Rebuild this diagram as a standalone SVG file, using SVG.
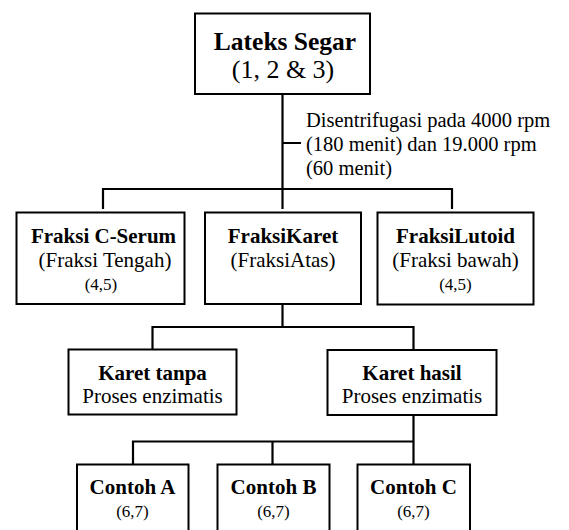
<svg xmlns="http://www.w3.org/2000/svg" width="569" height="530" viewBox="0 0 569 530">
<style>
.box{fill:#fff;stroke:#000;stroke-width:2}
.ln{fill:none;stroke:#000;stroke-width:2.2}
text{font-family:"Liberation Serif","Times New Roman",serif;fill:#000;text-anchor:middle}
.b{font-weight:bold;font-size:21px}
.r{font-size:21px}
.s{font-size:17px}
.lbl{font-size:20.5px;text-anchor:start}
</style>
<rect width="569" height="530" fill="#fff"/>
<g id="connectors">
<path class="ln" d="M282.5 94V189M282.5 143H301"/>
<path class="ln" d="M103 209V189H452V209M282.5 189V209"/>
<path class="ln" d="M282.5 304V327M152.5 349V327H413.5V350"/>
<path class="ln" d="M413.5 415V441.5M133 464V441.5H413.5V464M272.5 441.5V464"/>
</g>
<g id="label-centrifuge">
<text class="lbl" x="306" y="127">Disentrifugasi pada 4000 rpm</text>
<text class="lbl" x="306" y="151">(180 menit) dan 19.000 rpm</text>
<text class="lbl" x="306" y="175">(60 menit)</text>
</g>
<g id="lateks-segar">
<rect class="box" x="195" y="13.5" width="175" height="80.5"/>
<text x="285" y="50" font-weight="bold" font-size="25.5px">Lateks Segar</text>
<text x="283" y="78" font-size="26px">(1, 2 &amp; 3)</text>
</g>
<g id="fraksi-c-serum">
<rect class="box" x="16.5" y="212.5" width="168" height="91.5"/>
<text class="b" x="103.5" y="243">Fraksi C-Serum</text>
<text class="r" x="105" y="267">(Fraksi Tengah)</text>
<text class="s" x="101" y="290">(4,5)</text>
</g>
<g id="fraksi-karet">
<rect class="box" x="205" y="212.5" width="156" height="91.5"/>
<text class="b" x="283" y="243">FraksiKaret</text>
<text class="r" x="283" y="267">(FraksiAtas)</text>
</g>
<g id="fraksi-lutoid">
<rect class="box" x="377.5" y="212.5" width="156" height="92"/>
<text class="b" x="455.5" y="243">FraksiLutoid</text>
<text class="r" x="455.5" y="267">(Fraksi bawah)</text>
<text class="s" x="455.5" y="290">(4,5)</text>
</g>
<g id="karet-tanpa">
<rect class="box" x="68.5" y="349.5" width="168" height="65"/>
<text class="b" x="152.5" y="380">Karet tanpa</text>
<text class="r" x="152.5" y="403">Proses enzimatis</text>
</g>
<g id="karet-hasil">
<rect class="box" x="327.5" y="350" width="169" height="65"/>
<text class="b" x="412" y="380">Karet hasil</text>
<text class="r" x="412" y="403">Proses enzimatis</text>
</g>
<g id="contoh-a">
<rect class="box" x="77" y="464.5" width="111.5" height="75"/>
<text class="b" x="132.5" y="494">Contoh A</text>
<text class="s" x="132.5" y="517">(6,7)</text>
</g>
<g id="contoh-b">
<rect class="box" x="217.5" y="464.5" width="112" height="75"/>
<text class="b" x="273.5" y="494">Contoh B</text>
<text class="s" x="273.5" y="517">(6,7)</text>
</g>
<g id="contoh-c">
<rect class="box" x="357.5" y="464.5" width="112.5" height="75"/>
<text class="b" x="413.5" y="494">Contoh C</text>
<text class="s" x="413.5" y="517">(6,7)</text>
</g>
</svg>
